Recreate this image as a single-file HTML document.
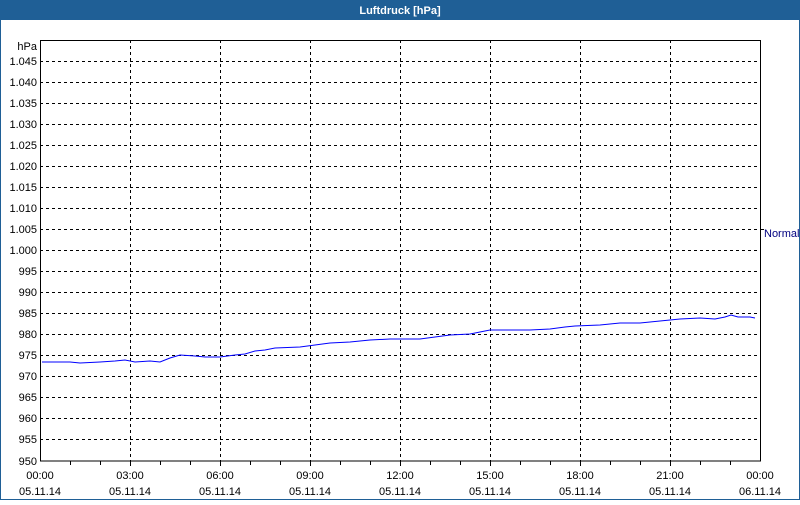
<!DOCTYPE html>
<html><head><style>
body{margin:0;width:800px;height:500px;overflow:hidden;background:#fff}
</style></head><body>
<svg width="800" height="500" xmlns="http://www.w3.org/2000/svg" font-family="Liberation Sans, sans-serif" font-size="11">
<rect x="0" y="0" width="800" height="500" fill="#fff"/>
<rect x="0.5" y="0.5" width="799" height="499" fill="none" stroke="#1f5f96"/>
<rect x="0" y="0" width="800" height="20" fill="#1f5f96"/>
<text x="400" y="14" fill="#fff" font-weight="bold" text-anchor="middle">Luftdruck [hPa]</text>
<g stroke="#000" stroke-dasharray="3,3" stroke-width="1">
<line x1="40" x2="760" y1="61.5" y2="61.5"/><line x1="40" x2="760" y1="82.5" y2="82.5"/><line x1="40" x2="760" y1="103.5" y2="103.5"/><line x1="40" x2="760" y1="124.5" y2="124.5"/><line x1="40" x2="760" y1="145.5" y2="145.5"/><line x1="40" x2="760" y1="166.5" y2="166.5"/><line x1="40" x2="760" y1="187.5" y2="187.5"/><line x1="40" x2="760" y1="208.5" y2="208.5"/><line x1="40" x2="760" y1="229.5" y2="229.5"/><line x1="40" x2="760" y1="250.5" y2="250.5"/><line x1="40" x2="760" y1="271.5" y2="271.5"/><line x1="40" x2="760" y1="292.5" y2="292.5"/><line x1="40" x2="760" y1="313.5" y2="313.5"/><line x1="40" x2="760" y1="334.5" y2="334.5"/><line x1="40" x2="760" y1="355.5" y2="355.5"/><line x1="40" x2="760" y1="376.5" y2="376.5"/><line x1="40" x2="760" y1="397.5" y2="397.5"/><line x1="40" x2="760" y1="418.5" y2="418.5"/><line x1="40" x2="760" y1="439.5" y2="439.5"/>
<line x1="130.5" x2="130.5" y1="40" y2="461"/><line x1="220.5" x2="220.5" y1="40" y2="461"/><line x1="310.5" x2="310.5" y1="40" y2="461"/><line x1="400.5" x2="400.5" y1="40" y2="461"/><line x1="490.5" x2="490.5" y1="40" y2="461"/><line x1="580.5" x2="580.5" y1="40" y2="461"/><line x1="670.5" x2="670.5" y1="40" y2="461"/>
</g>
<rect x="40.5" y="40.5" width="720" height="420.5" fill="none" stroke="#000"/>
<g stroke="#000">
<line x1="760" x2="764" y1="229.5" y2="229.5"/>
<line x1="70.5" x2="70.5" y1="461" y2="465"/><line x1="100.5" x2="100.5" y1="461" y2="465"/><line x1="130.5" x2="130.5" y1="461" y2="466"/>
<line x1="160.5" x2="160.5" y1="461" y2="465"/><line x1="190.5" x2="190.5" y1="461" y2="465"/><line x1="220.5" x2="220.5" y1="461" y2="466"/>
<line x1="250.5" x2="250.5" y1="461" y2="465"/><line x1="280.5" x2="280.5" y1="461" y2="465"/><line x1="310.5" x2="310.5" y1="461" y2="466"/>
<line x1="340.5" x2="340.5" y1="461" y2="465"/><line x1="370.5" x2="370.5" y1="461" y2="465"/><line x1="400.5" x2="400.5" y1="461" y2="466"/>
<line x1="430.5" x2="430.5" y1="461" y2="465"/><line x1="460.5" x2="460.5" y1="461" y2="465"/><line x1="490.5" x2="490.5" y1="461" y2="466"/>
<line x1="520.5" x2="520.5" y1="461" y2="465"/><line x1="550.5" x2="550.5" y1="461" y2="465"/><line x1="580.5" x2="580.5" y1="461" y2="466"/>
<line x1="610.5" x2="610.5" y1="461" y2="465"/><line x1="640.5" x2="640.5" y1="461" y2="465"/><line x1="670.5" x2="670.5" y1="461" y2="466"/>
<line x1="700.5" x2="700.5" y1="461" y2="465"/><line x1="730.5" x2="730.5" y1="461" y2="465"/>
</g>
<g text-anchor="end" fill="#000">
<text x="37" y="50">hPa</text>
<text x="37" y="65">1.045</text><text x="37" y="86">1.040</text><text x="37" y="107">1.035</text><text x="37" y="128">1.030</text><text x="37" y="149">1.025</text><text x="37" y="170">1.020</text><text x="37" y="191">1.015</text><text x="37" y="212">1.010</text><text x="37" y="233">1.005</text><text x="37" y="254">1.000</text><text x="37" y="275">995</text><text x="37" y="296">990</text><text x="37" y="317">985</text><text x="37" y="338">980</text><text x="37" y="359">975</text><text x="37" y="380">970</text><text x="37" y="401">965</text><text x="37" y="422">960</text><text x="37" y="443">955</text><text x="37" y="465">950</text>
</g>
<text x="764" y="237" fill="#000080">Normal</text>
<g text-anchor="middle" fill="#000">
<text x="40" y="479">00:00</text><text x="40" y="495">05.11.14</text>
<text x="130" y="479">03:00</text><text x="130" y="495">05.11.14</text>
<text x="220" y="479">06:00</text><text x="220" y="495">05.11.14</text>
<text x="310" y="479">09:00</text><text x="310" y="495">05.11.14</text>
<text x="400" y="479">12:00</text><text x="400" y="495">05.11.14</text>
<text x="490" y="479">15:00</text><text x="490" y="495">05.11.14</text>
<text x="580" y="479">18:00</text><text x="580" y="495">05.11.14</text>
<text x="670" y="479">21:00</text><text x="670" y="495">05.11.14</text>
<text x="760" y="479">00:00</text><text x="760" y="495">06.11.14</text>
</g>
<polyline fill="none" stroke="#0000ff" stroke-width="1" points="42,362 70,362 80,363 100,362 115,361 125,360 135,362 150,361 160,362 170,358 180,355 195,356 205,357 220,357 235,355 245,354 255,351 265,350 275,348 300,347 315,345 330,343 350,342 370,340 390,339 420,339 435,337 450,335 470,334 480,332 490,330 500,330 530,330 550,329 565,327 575,326 600,325 620,323 640,323 660,321 680,319 700,318 715,319 725,317 731,315 738,317 750,317 755,318"/>
</svg>
</body></html>
